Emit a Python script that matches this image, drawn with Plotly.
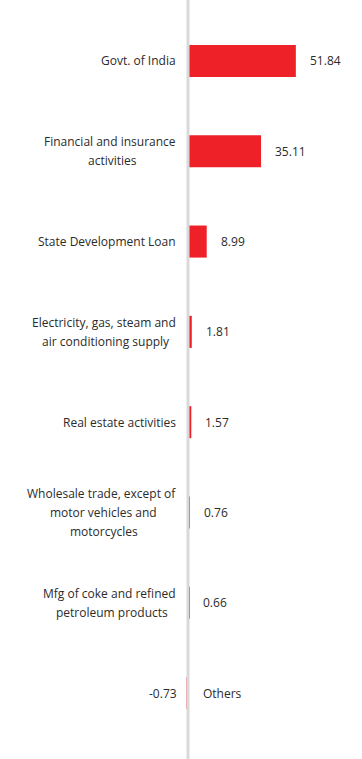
import plotly.graph_objects as go

categories = [
    "Govt. of India",
    "Financial and insurance<br>activities",
    "State Development Loan",
    "Electricity, gas, steam and<br>air conditioning supply",
    "Real estate activities",
    "Wholesale trade, except of<br>motor vehicles and<br>motorcycles",
    "Mfg of coke and refined<br>petroleum products",
    "Others",
]
values = [51.84, 35.11, 8.99, 1.81, 1.57, 0.76, 0.66, -0.73]
value_labels = ["51.84", "35.11", "8.99", "1.81", "1.57", "0.76", "0.66", "-0.73"]

BAR_COLOR = "#EE2128"
TEXT_COLOR = "#2b2b2b"
AXIS_COLOR = "#d9d9d9"
FONT = "Open Sans"
FS = 12
LINE_H = 19  # line spacing of wrapped labels, px
GAP = 10     # gap between axis and category labels, px

# approximate Open Sans advance widths (em) for centering wrapped lines
_W = {" ": .26, "a": .556, "b": .613, "c": .476, "d": .613, "e": .561, "f": .339,
      "g": .548, "h": .614, "i": .253, "j": .253, "k": .525, "l": .253, "m": .93,
      "n": .614, "o": .604, "p": .613, "q": .613, "r": .408, "s": .477, "t": .353,
      "u": .614, "v": .501, "w": .778, "x": .52, "y": .502, "z": .47, ",": .258,
      ".": .258, "F": .532, "E": .556, "W": .929, "M": .89, "G": .69, "I": .27}


def text_w(s):
    return sum(_W.get(ch, .56) for ch in s) * FS


idx = list(range(len(categories)))

fig = go.Figure(
    go.Bar(
        y=idx,
        x=values,
        orientation="h",
        marker=dict(color=BAR_COLOR, line=dict(width=0)),
        width=0.355,
        hoverinfo="skip",
    )
)

annotations = []
for i, (cat, v, vl) in enumerate(zip(categories, values, value_labels)):
    lines = cat.split("<br>")
    n = len(lines)
    font = dict(family=FONT, size=FS, color=TEXT_COLOR)
    if v >= 0:
        widths = [text_w(ln) for ln in lines]
        kmax = widths.index(max(widths))
        center_shift = -GAP - widths[kmax] / 2
        for k, ln in enumerate(lines):
            ys = ((n - 1) / 2 - k) * LINE_H
            if k == kmax:
                annotations.append(dict(x=0, y=i, xref="x", yref="y", text=ln, showarrow=False,
                                        xanchor="right", yanchor="middle", xshift=-GAP,
                                        yshift=ys, font=font))
            else:
                annotations.append(dict(x=0, y=i, xref="x", yref="y", text=ln, showarrow=False,
                                        xanchor="center", yanchor="middle", xshift=center_shift,
                                        yshift=ys, font=font))
        annotations.append(dict(x=v, y=i, xref="x", yref="y", text=vl, showarrow=False,
                                xanchor="left", yanchor="middle", xshift=12, font=font))
    else:
        annotations.append(dict(x=0, y=i, xref="x", yref="y", text=cat, showarrow=False,
                                xanchor="left", yanchor="middle", xshift=13, font=font))
        annotations.append(dict(x=v, y=i, xref="x", yref="y", text=vl, showarrow=False,
                                xanchor="right", yanchor="middle", xshift=-8, font=font))

fig.update_layout(
    width=362,
    height=759,
    margin=dict(l=0, r=0, t=0, b=0),
    paper_bgcolor="white",
    plot_bgcolor="white",
    showlegend=False,
    xaxis=dict(range=[-90.4, 83.65], showgrid=False, showticklabels=False, ticks="",
               zeroline=False, fixedrange=True),
    yaxis=dict(range=[7.73, -0.675], showgrid=False, showticklabels=False, ticks="",
               zeroline=False, fixedrange=True),
    shapes=[dict(type="line", xref="x", yref="paper", x0=0, x1=0, y0=0, y1=1,
                 line=dict(color=AXIS_COLOR, width=3), layer="above")],
    annotations=annotations,
)

fig.write_html("out.html", config={"displayModeBar": False},
               post_script="document.body.style.margin='0px';")
